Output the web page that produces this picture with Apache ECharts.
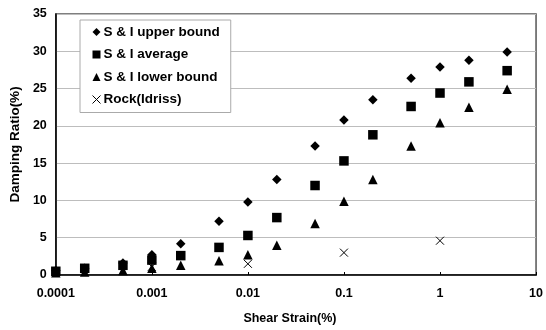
<!DOCTYPE html>
<html>
<head>
<meta charset="utf-8">
<script src="https://cdn.jsdelivr.net/npm/echarts@6/dist/echarts.min.js"></script>
<style>
  html, body { margin: 0; padding: 0; background: #fff; }
  #chart { width: 546px; height: 330px; }
</style>
</head>
<body>
<div id="chart"></div>
<script>
// Shear strain (%) at which each damping value was measured
const strains = [0.0001, 0.0002, 0.0005, 0.001, 0.002, 0.005, 0.01, 0.02, 0.05, 0.1, 0.2, 0.5, 1, 2, 5];

// Damping ratio (%) of the S & I envelopes
const upperBound = [0.6, 0.9, 1.6, 2.7, 4.2, 7.2, 9.8, 12.8, 17.3, 20.8, 23.5, 26.4, 27.9, 28.8, 29.9];
const average    = [0.5, 0.9, 1.3, 2.0, 2.6, 3.7, 5.3, 7.7, 12.0, 15.3, 18.8, 22.6, 24.4, 25.9, 27.4];
const lowerBound = [0.3, 0.4, 0.6, 0.9, 1.3, 1.9, 2.7, 4.0, 6.9, 9.9, 12.8, 17.3, 20.4, 22.5, 24.9];

// Rock (Idriss) curve
const rockStrains = [0.0001, 0.001, 0.01, 0.1, 1];
const rockDamping = [0.4, 1.1, 1.5, 3.0, 4.6];

const seriesNames = ['S & I upper bound', 'S & I average', 'S & I lower bound', 'Rock(Idriss)'];
const xTickLabels = ['0.0001', '0.001', '0.01', '0.1', '1', '10'];

const pairs = (xs, ys) => xs.map((x, i) => [x, ys[i]]);
const crossPath = 'path://M0,0L10,10M10,0L0,10';
const font = 'Liberation Sans, Arial, sans-serif';

const chart = echarts.init(document.getElementById('chart'), null, { renderer: 'canvas' });

chart.setOption({
  animation: false,
  backgroundColor: '#ffffff',
  grid: {
    left: 53, right: 9, top: 14, bottom: 53,
    show: true, borderColor: '#555', borderWidth: 1.5, backgroundColor: 'transparent'
  },
  legend: {
    orient: 'vertical',
    left: 80, top: 20,
    padding: [5, 11, 6, 10],
    itemGap: 8.5,
    itemWidth: 8, itemHeight: 8,
    backgroundColor: '#fff',
    borderColor: '#aaa', borderWidth: 1,
    borderRadius: 0,
    textStyle: { fontFamily: font, fontSize: 13.5, fontWeight: 'bold', color: '#000', padding: [0, 0, 0, -2] },
    data: [
      { name: seriesNames[0], icon: 'diamond', itemStyle: { color: '#000', opacity: 1 } },
      { name: seriesNames[1], icon: 'rect', itemStyle: { color: '#000', opacity: 1 } },
      { name: seriesNames[2], icon: 'triangle', itemStyle: { color: '#000', opacity: 1 } },
      { name: seriesNames[3], icon: crossPath, itemStyle: { color: 'none', borderColor: '#000', borderWidth: 1, opacity: 1 } }
    ]
  },
  xAxis: {
    type: 'log',
    logBase: 10,
    min: 0.0001,
    max: 10,
    name: 'Shear Strain(%)',
    nameLocation: 'middle',
    nameGap: 37,
    nameTextStyle: { fontFamily: font, fontSize: 12.5, fontWeight: 'bold', color: '#000', padding: [0, 12, 0, 0] },
    axisLine: { show: true, onZero: false, lineStyle: { color: '#000', width: 1.5 } },
    axisTick: { show: true, inside: true, length: 3, lineStyle: { color: '#000' } },
    splitLine: { show: false },
    minorTick: { show: false },
    axisLabel: {
      margin: 12,
      fontFamily: font, fontSize: 12.5, fontWeight: 'bold', color: '#000',
      formatter: (v, i) => xTickLabels[i]
    }
  },
  yAxis: {
    type: 'value',
    min: 0, max: 35, interval: 5,
    name: 'Damping Ratio(%)',
    nameLocation: 'middle',
    nameGap: 31,
    nameRotate: 90,
    nameTextStyle: { fontFamily: font, fontSize: 13.5, fontWeight: 'bold', color: '#000' },
    axisLine: { show: true, lineStyle: { color: '#000', width: 1.5 } },
    axisTick: { show: false },
    splitLine: { show: true, lineStyle: { color: '#bdbdbd', width: 1 } },
    axisLabel: { margin: 9, fontFamily: font, fontSize: 12.5, fontWeight: 'bold', color: '#000' }
  },
  series: [
    {
      name: seriesNames[0], type: 'scatter', symbol: 'diamond', symbolSize: 9.5,
      itemStyle: { color: '#000', opacity: 1 }, data: pairs(strains, upperBound)
    },
    {
      name: seriesNames[1], type: 'scatter', symbol: 'rect', symbolSize: 9.5,
      itemStyle: { color: '#000', opacity: 1 }, data: pairs(strains, average)
    },
    {
      name: seriesNames[2], type: 'scatter', symbol: 'triangle', symbolSize: 9.5,
      itemStyle: { color: '#000', opacity: 1 }, data: pairs(strains, lowerBound)
    },
    {
      name: seriesNames[3], type: 'scatter', symbol: crossPath, symbolSize: 8,
      itemStyle: { color: 'none', borderColor: '#000', borderWidth: 1, opacity: 1 },
      data: pairs(rockStrains, rockDamping)
    }
  ]
});
</script>
</body>
</html>
